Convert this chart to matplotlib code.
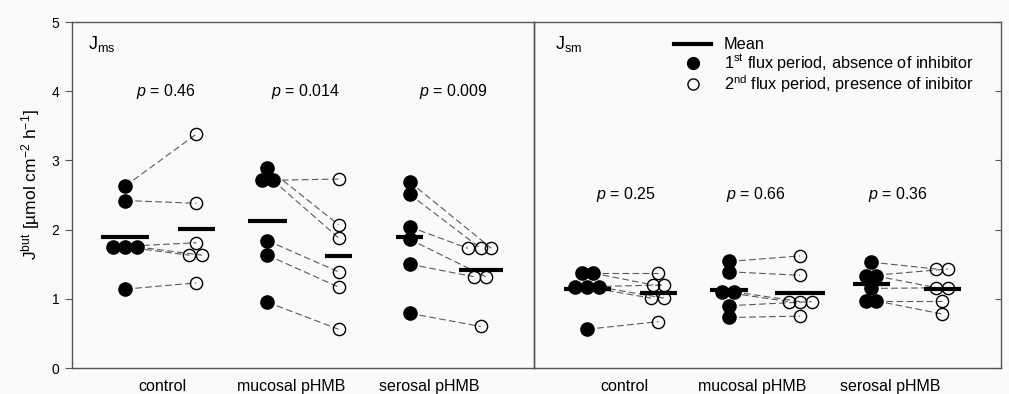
import matplotlib
matplotlib.use("Agg")
import matplotlib.pyplot as plt
from matplotlib.lines import Line2D

plt.rcParams['font.family'] = ['Liberation Sans', 'DejaVu Sans']
plt.rcParams['mathtext.fontset'] = 'custom'
plt.rcParams['mathtext.rm'] = 'Liberation Sans'
plt.rcParams['mathtext.it'] = 'Liberation Sans:italic'

# ---------------- data ----------------
categories = ["control", "mucosal pHMB", "serosal pHMB"]
panel_labels = ["J$_{\\mathrm{ms}}$", "J$_{\\mathrm{sm}}$"]

# J_ms panel (paired: first period -> second period)
ms_first = [[2.63, 2.42, 1.75, 1.75, 1.75, 1.14],
            [2.89, 2.71, 2.71, 1.84, 1.63, 0.95],
            [2.69, 2.51, 2.04, 1.86, 1.50, 0.79]]
ms_second = [[3.38, 2.38, 1.81, 1.63, 1.63, 1.23],
             [2.07, 2.73, 1.88, 1.39, 1.17, 0.56],
             [1.73, 1.73, 1.73, 1.32, 1.32, 0.60]]
ms_mean_first = [1.90, 2.12, 1.89]
ms_mean_second = [2.01, 1.62, 1.41]
ms_p = ["0.46", "0.014", "0.009"]

# J_sm panel
sm_first = [[1.37, 1.37, 1.17, 1.17, 1.17, 0.56],
            [1.54, 1.39, 1.10, 1.10, 0.90, 0.73],
            [1.53, 1.33, 1.33, 1.15, 0.97, 0.97]]
sm_second = [[1.37, 1.20, 1.20, 1.01, 1.01, 0.67],
             [1.62, 1.34, 0.96, 0.96, 0.96, 0.75],
             [1.43, 1.43, 1.16, 1.16, 0.97, 0.78]]
sm_mean_first = [1.14, 1.12, 1.21]
sm_mean_second = [1.08, 1.09, 1.14]
sm_p = ["0.25", "0.66", "0.36"]

# ---------------- layout (positions / styles) ----------------
first_pos = [0.75, 2.75, 4.75]
second_pos = [1.75, 3.75, 5.75]
cat_pos = [1.27, 3.08, 5.02]
ms_off_first = [[0, 0, -0.17, 0, 0.17, 0], [0, -0.08, 0.08, 0, 0, 0], [0, 0, 0, 0, 0, 0]]
ms_off_second = [[0, 0, 0, -0.1, 0.08, 0], [0, 0, 0, 0, 0, 0], [0.15, 0, -0.18, 0.07, -0.1, 0]]
sm_off_first = [[-0.07, 0.08, -0.17, 0, 0.17, 0], [0, 0, -0.1, 0.07, 0, 0], [0, -0.07, 0.07, 0, -0.07, 0.07]]
sm_off_second = [[0, -0.07, 0.08, -0.1, 0.08, 0], [0, 0, -0.16, 0, 0.16, 0], [-0.08, 0.08, -0.08, 0.08, 0, 0]]
ms_hw_first = [0.34, 0.27, 0.19]
ms_hw_second = [0.26, 0.19, 0.31]
sm_hw_first = [0.33, 0.27, 0.26]
sm_hw_second = [0.26, 0.35, 0.26]
ms_p_x = [1.32, 3.28, 5.37]
sm_p_x = [1.30, 3.13, 5.13]
ms_p_y = 4.0
sm_p_y = 2.5

bg = '#fcfaf8'
spine_c = '#555555'

fig = plt.figure(figsize=(10.09, 3.94), dpi=100, facecolor=bg)
axL = fig.add_axes([72/1009, 26/394, (534-72)/1009, 346/394], facecolor=bg)
axR = fig.add_axes([534/1009, 26/394, (1001-534)/1009, 346/394])
axR.patch.set_visible(False)


def draw_panel(ax, first, second, off1, off2, m1, m2, hw1, hw2, pvals, px, py, xmax):
    for g in range(len(categories)):
        for v1, v2, o1, o2 in zip(first[g], second[g], off1[g], off2[g]):
            ax.plot([first_pos[g] + o1, second_pos[g] + o2], [v1, v2],
                    ls=(0, (6, 3)), color='#5a5a5a', lw=0.8, zorder=1)
        ax.plot([first_pos[g] + o for o in off1[g]], first[g], 'o', ms=9.5,
                color='black', ls='none', zorder=3)
        ax.plot([second_pos[g] + o for o in off2[g]], second[g], 'o', ms=8.8,
                mfc='none', mec='black', mew=1.0, ls='none', zorder=3)
        ax.plot([first_pos[g] - hw1[g], first_pos[g] + hw1[g]], [m1[g], m1[g]],
                color='black', lw=3, solid_capstyle='butt', zorder=4)
        ax.plot([second_pos[g] - hw2[g], second_pos[g] + hw2[g]], [m2[g], m2[g]],
                color='black', lw=3, solid_capstyle='butt', zorder=4)
        ax.text(px[g], py, "$p$ = " + pvals[g], ha='center', va='center', fontsize=11.5)
    ax.set_xlim(0, xmax)
    ax.set_ylim(0, 5)
    ax.set_xticks(cat_pos)
    ax.set_xticklabels(categories, fontsize=11.5)
    ax.tick_params(axis='x', length=0, pad=8)
    for s in ax.spines.values():
        s.set_color(spine_c)
        s.set_linewidth(1.0)


draw_panel(axL, ms_first, ms_second, ms_off_first, ms_off_second,
           ms_mean_first, ms_mean_second, ms_hw_first, ms_hw_second, ms_p, ms_p_x, ms_p_y, 6.5)
draw_panel(axR, sm_first, sm_second, sm_off_first, sm_off_second,
           sm_mean_first, sm_mean_second, sm_hw_first, sm_hw_second, sm_p, sm_p_x, sm_p_y, 6.58)

axL.set_yticks(range(0, 6))
axL.tick_params(axis='y', direction='out', length=5, color=spine_c, labelsize=10, pad=4)
axL.set_ylabel("J$^{\\mathrm{but}}$ [µmol cm$^{-2}$ h$^{-1}$]", fontsize=12.5)
axL.yaxis.set_label_coords(-0.064, 0.53)

axR.set_yticks(range(0, 6))
axR.yaxis.tick_right()
axR.tick_params(axis='y', direction='in', length=4, color=spine_c, labelright=False, labelleft=False)
axR.spines['left'].set_visible(True)

axL.text(0.035, 0.935, panel_labels[0], transform=axL.transAxes, fontsize=13, va='center')
axR.text(0.045, 0.935, panel_labels[1], transform=axR.transAxes, fontsize=13, va='center')

handles = [Line2D([], [], color='black', lw=3),
           Line2D([], [], marker='o', ls='none', color='black', ms=8.5),
           Line2D([], [], marker='o', ls='none', mfc='none', mec='black', mew=1.0, ms=8)]
labels = ["Mean",
          "1$^{\\mathrm{st}}$ flux period, absence of inhibitor",
          "2$^{\\mathrm{nd}}$ flux period, presence of inibitor"]
axR.legend(handles, labels, loc='upper left', bbox_to_anchor=(0.30, 0.956), frameon=False,
           fontsize=11.7, handlelength=2.3, handletextpad=0.75, labelspacing=0.0,
           borderpad=0, borderaxespad=0)

fig.savefig("out.png", dpi=100, facecolor=bg)
